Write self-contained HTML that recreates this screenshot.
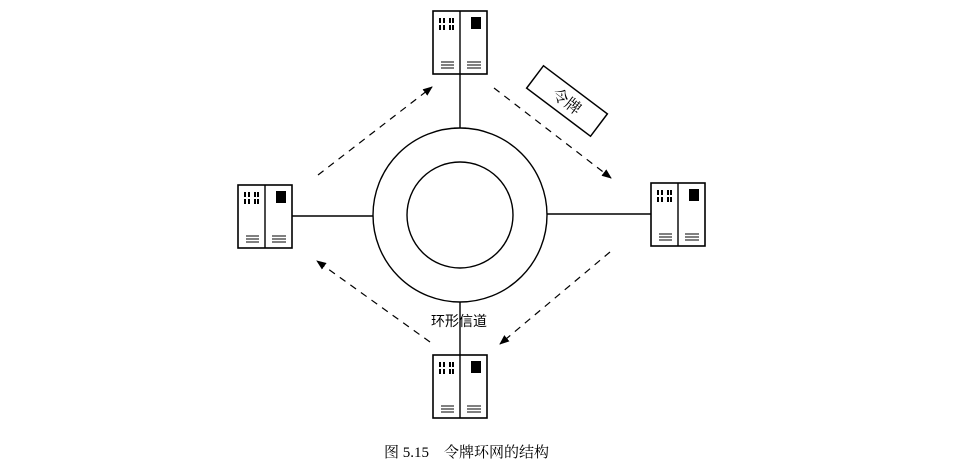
<!DOCTYPE html>
<html><head><meta charset="utf-8"><style>
html,body{margin:0;padding:0;background:#fff;}
svg{display:block;}
text{font-family:"Liberation Serif","Noto Serif CJK SC","Noto Sans CJK SC",serif;fill:#000;}
</style></head><body>
<svg width="978" height="470" viewBox="0 0 978 470" xmlns="http://www.w3.org/2000/svg">
<defs>
<g id="pc">
<rect x="0" y="0" width="54" height="63" fill="#fff" stroke="#000" stroke-width="1.6"/>
<line x1="27" y1="0" x2="27" y2="63" stroke="#000" stroke-width="1.4"/>
<g fill="#000">
<rect x="6" y="7" width="2" height="5"/><rect x="10" y="7" width="2" height="5"/><rect x="16" y="7" width="2" height="5"/><rect x="19" y="7" width="2" height="5"/>
<rect x="6" y="14" width="2" height="5"/><rect x="10" y="14" width="2" height="5"/><rect x="16" y="14" width="2" height="5"/><rect x="19" y="14" width="2" height="5"/>
<rect x="38" y="6" width="10" height="12"/>
</g>
<g stroke="#000" stroke-width="1">
<line x1="8" y1="51" x2="21" y2="51"/><line x1="8" y1="54" x2="21" y2="54"/><line x1="8" y1="57" x2="21" y2="57"/>
<line x1="34" y1="51" x2="48" y2="51"/><line x1="34" y1="54" x2="48" y2="54"/><line x1="34" y1="57" x2="48" y2="57"/>
</g>
</g>
<marker id="ah" markerWidth="10" markerHeight="8" refX="9" refY="4" orient="auto" markerUnits="userSpaceOnUse">
<path d="M0,0 L10,4 L0,8 Z" fill="#000"/>
</marker>
</defs>
<g stroke="#000" stroke-width="1.4" fill="none">
<circle cx="460" cy="215" r="87"/>
<circle cx="460" cy="215" r="53"/>
<line x1="460" y1="74" x2="460" y2="128"/>
<line x1="292" y1="216" x2="373" y2="216"/>
<line x1="547" y1="214" x2="651" y2="214"/>
<line x1="460" y1="302" x2="460" y2="355"/>
</g>
<use href="#pc" x="433" y="11"/>
<use href="#pc" x="238" y="185"/>
<use href="#pc" x="651" y="183"/>
<use href="#pc" x="433" y="355"/>
<g stroke="#000" stroke-width="1.2" stroke-dasharray="7,6" fill="none" marker-end="url(#ah)">
<line x1="318" y1="175" x2="432" y2="87"/>
<line x1="494" y1="88" x2="611" y2="178"/>
<line x1="610" y1="252" x2="500" y2="344"/>
<line x1="430" y1="342" x2="317" y2="261"/>
</g>
<g transform="translate(567,101) rotate(37)">
<rect x="-40" y="-14" width="80" height="28" fill="#fff" stroke="#000" stroke-width="1.5"/>
<text x="0" y="6" font-size="16" text-anchor="middle">令牌</text>
</g>
<text x="459" y="326" font-size="14" text-anchor="middle" style="font-family:'Noto Sans CJK SC',sans-serif">环形信道</text>
<text x="384" y="457" font-size="15">图 5.15　令牌环网的结构</text>
</svg>
</body></html>
